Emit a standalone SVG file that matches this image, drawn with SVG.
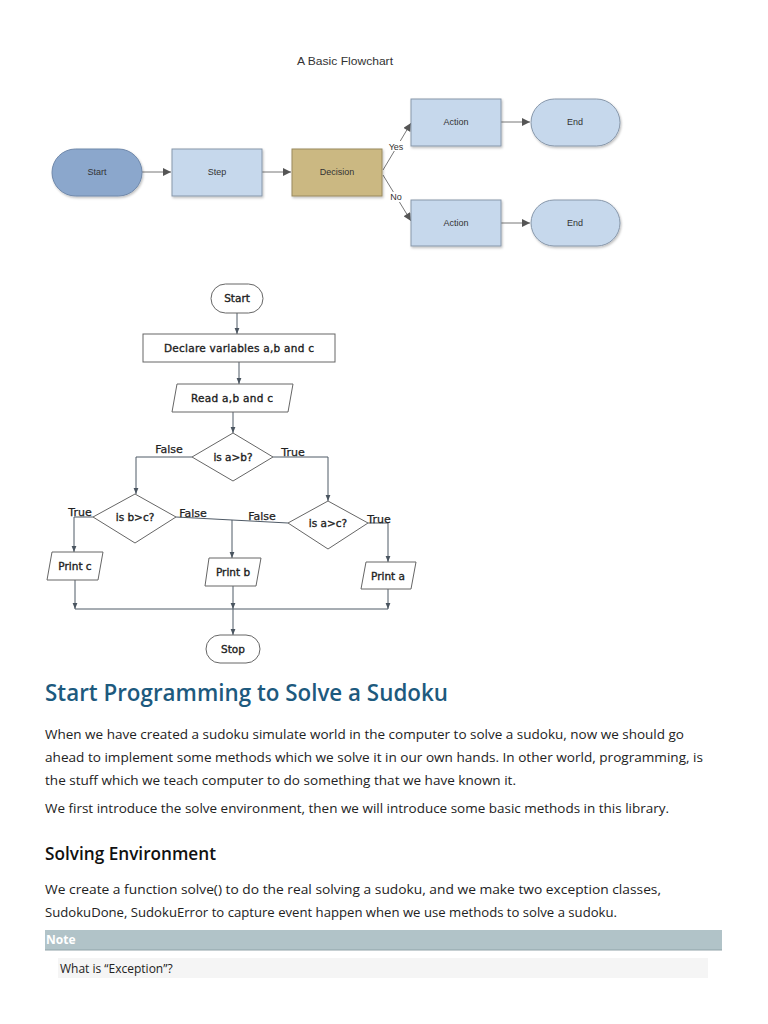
<svg xmlns="http://www.w3.org/2000/svg" width="768" height="1024" viewBox="0 0 768 1024">
<defs>
<marker id="a1" viewBox="0 0 10 10" refX="10" refY="5" markerWidth="9" markerHeight="8" markerUnits="userSpaceOnUse" orient="auto"><path d="M0,0L10,5L0,10z" fill="#555"/></marker>
<marker id="a2" viewBox="0 0 10 10" refX="10" refY="5" markerWidth="6" markerHeight="6" markerUnits="userSpaceOnUse" orient="auto"><path d="M0,1L10,5L0,9z" fill="#4a5560"/></marker>
<filter id="sh" x="-10%" y="-10%" width="130%" height="140%"><feDropShadow dx="1" dy="1.5" stdDeviation="1" flood-color="#000" flood-opacity="0.25"/></filter>
</defs>
<style>
.t1{font-family:"Liberation Sans",Arial,sans-serif;font-size:9px;fill:#333;text-anchor:middle}
.t2{font-family:"DejaVu Sans",Verdana,sans-serif;font-size:10.5px;fill:#222;stroke:#222;stroke-width:0.35px;text-anchor:middle}
.lb{font-family:"DejaVu Sans",Verdana,sans-serif;font-size:11px;fill:#222;stroke:#222;stroke-width:0.25px;text-anchor:middle}
.n2{fill:#fff;stroke:#666;stroke-width:1}
.c1{fill:none;stroke:#777;stroke-width:1}
.c2{fill:none;stroke:#4f5a66;stroke-width:1}
.body{font-family:"Open Sans","Noto Sans",sans-serif;font-size:13.5px;fill:#222}
</style>
<rect width="768" height="1024" fill="#fff"/>

<text x="345" y="65" font-family="Liberation Sans,Arial,sans-serif" font-size="11.5" fill="#333" text-anchor="middle" textLength="96" lengthAdjust="spacingAndGlyphs">A Basic Flowchart</text>

<g id="connectors1">
<line class="c1" x1="142" y1="172" x2="171" y2="172" marker-end="url(#a1)"/>
<line class="c1" x1="262" y1="172" x2="291" y2="172" marker-end="url(#a1)"/>
<line class="c1" x1="383" y1="170" x2="411" y2="123" marker-end="url(#a1)"/>
<line class="c1" x1="383" y1="175" x2="411" y2="221" marker-end="url(#a1)"/>
<line class="c1" x1="501" y1="122" x2="530" y2="122" marker-end="url(#a1)"/>
<line class="c1" x1="501" y1="223" x2="530" y2="223" marker-end="url(#a1)"/>
<rect x="388" y="141" width="16" height="10" fill="#fff"/>
<text class="t1" x="396" y="150">Yes</text>
<rect x="390" y="192" width="13" height="10" fill="#fff"/>
<text class="t1" x="396" y="200">No</text>
</g>

<g id="f1-start"><rect x="52" y="149" width="90" height="47" rx="23.5" fill="#8ba7cc" stroke="#6f88aa" filter="url(#sh)"/><text class="t1" x="97" y="175">Start</text></g>
<g id="f1-step"><rect x="172" y="149" width="90" height="47" fill="#c6d8ec" stroke="#8797aa" filter="url(#sh)"/><text class="t1" x="217" y="175">Step</text></g>
<g id="f1-decision"><rect x="292" y="149" width="90" height="47" fill="#cbb882" stroke="#998a5e" filter="url(#sh)"/><text class="t1" x="337" y="175">Decision</text></g>
<g id="f1-action1"><rect x="411" y="99" width="90" height="47" fill="#c6d8ec" stroke="#8797aa" filter="url(#sh)"/><text class="t1" x="456" y="125">Action</text></g>
<g id="f1-end1"><rect x="531" y="99" width="89" height="47" rx="23.5" fill="#c6d8ec" stroke="#8797aa" filter="url(#sh)"/><text class="t1" x="575" y="125">End</text></g>
<g id="f1-action2"><rect x="411" y="200" width="90" height="46" fill="#c6d8ec" stroke="#8797aa" filter="url(#sh)"/><text class="t1" x="456" y="226">Action</text></g>
<g id="f1-end2"><rect x="531" y="200" width="89" height="46" rx="23" fill="#c6d8ec" stroke="#8797aa" filter="url(#sh)"/><text class="t1" x="575" y="226">End</text></g>

<g id="connectors2">
<line class="c2" x1="237" y1="313" x2="237" y2="334" marker-end="url(#a2)"/>
<line class="c2" x1="239" y1="362" x2="239" y2="384" marker-end="url(#a2)"/>
<line class="c2" x1="233" y1="412" x2="233" y2="433" marker-end="url(#a2)"/>
<polyline class="c2" points="192,457 136,457 136,494" marker-end="url(#a2)"/>
<polyline class="c2" points="273,457 328,457 328,501" marker-end="url(#a2)"/>
<polyline class="c2" points="93,517 74,517 74,552" marker-end="url(#a2)"/>
<polyline class="c2" points="176,517 232,520 288,523"/>
<line class="c2" x1="232" y1="520" x2="232" y2="558" marker-end="url(#a2)"/>
<polyline class="c2" points="368,523 388,523 388,562" marker-end="url(#a2)"/>
<line class="c2" x1="75" y1="580" x2="75" y2="609" marker-end="url(#a2)"/>
<line class="c2" x1="233" y1="586" x2="233" y2="609" marker-end="url(#a2)"/>
<line class="c2" x1="388" y1="589" x2="388" y2="609" marker-end="url(#a2)"/>
<line class="c2" x1="75" y1="609" x2="388" y2="609"/>
<line class="c2" x1="233" y1="609" x2="233" y2="635" marker-end="url(#a2)"/>
<text class="lb" x="169" y="453">False</text>
<text class="lb" x="293" y="456">True</text>
<text class="lb" x="80" y="516">True</text>
<text class="lb" x="193" y="517">False</text>
<text class="lb" x="262" y="520">False</text>
<text class="lb" x="379" y="523">True</text>
</g>

<g id="f2-start"><rect class="n2" x="211" y="284" width="52" height="29" rx="14.5"/><text class="t2" x="237" y="302">Start</text></g>
<g id="f2-declare"><rect class="n2" x="143" y="334" width="192" height="28"/><text class="t2" x="239" y="352" textLength="150" lengthAdjust="spacing">Declare variables a,b and c</text></g>
<g id="f2-read"><polygon class="n2" points="177,384 293,384 288,412 172,412"/><text class="t2" x="232" y="402" textLength="82" lengthAdjust="spacing">Read a,b and c</text></g>
<g id="f2-ab"><polygon class="n2" points="233,433 273,457 233,481 192,457"/><text class="t2" x="233" y="461">is a&gt;b?</text></g>
<g id="f2-bc"><polygon class="n2" points="135,494 176,517 135,543 93,517"/><text class="t2" x="135" y="521">is b&gt;c?</text></g>
<g id="f2-ac"><polygon class="n2" points="328,501 368,523 328,549 288,523"/><text class="t2" x="328" y="527">is a&gt;c?</text></g>
<g id="f2-printc"><polygon class="n2" points="52,552 103,552 98,580 47,580"/><text class="t2" x="75" y="570">Print c</text></g>
<g id="f2-printb"><polygon class="n2" points="209,558 261,558 256,586 205,586"/><text class="t2" x="233" y="576">Print b</text></g>
<g id="f2-printa"><polygon class="n2" points="366,562 416,562 411,589 361,589"/><text class="t2" x="388" y="580" font-size="11.5">Print a</text></g>
<g id="f2-stop"><rect class="n2" x="206" y="635" width="54" height="28" rx="14"/><text class="t2" x="233" y="653">Stop</text></g>

<text x="45" y="701" font-family="Open Sans,Noto Sans,sans-serif" font-size="23" font-weight="600" fill="#1d5a7e" textLength="403" lengthAdjust="spacingAndGlyphs">Start Programming to Solve a Sudoku</text>
<text class="body" x="45" y="739" textLength="639" lengthAdjust="spacingAndGlyphs">When we have created a sudoku simulate world in the computer to solve a sudoku, now we should go</text>
<text class="body" x="45" y="762" textLength="658" lengthAdjust="spacingAndGlyphs">ahead to implement some methods which we solve it in our own hands. In other world, programming, is</text>
<text class="body" x="45" y="785" textLength="471" lengthAdjust="spacingAndGlyphs">the stuff which we teach computer to do something that we have known it.</text>
<text class="body" x="45" y="813" textLength="624" lengthAdjust="spacingAndGlyphs">We first introduce the solve environment, then we will introduce some basic methods in this library.</text>
<text x="45" y="860" font-family="Open Sans,Noto Sans,sans-serif" font-size="18" font-weight="600" fill="#111" textLength="171" lengthAdjust="spacingAndGlyphs">Solving Environment</text>
<text class="body" x="45" y="894" textLength="616" lengthAdjust="spacingAndGlyphs">We create a function solve() to do the real solving a sudoku, and we make two exception classes,</text>
<text class="body" x="45" y="917" textLength="572" lengthAdjust="spacingAndGlyphs">SudokuDone, SudokuError to capture event happen when we use methods to solve a sudoku.</text>
<rect x="45" y="930" width="677" height="20" fill="#b1c3c8"/>
<line x1="45" y1="950" x2="722" y2="950" stroke="#8fa2a8" stroke-width="1"/>
<text x="46" y="944" font-family="Open Sans,Noto Sans,sans-serif" font-size="12" font-weight="bold" fill="#fff">Note</text>
<rect x="58" y="958" width="650" height="20" fill="#f5f5f5"/>
<text x="60" y="973" font-family="Open Sans,Noto Sans,sans-serif" font-size="12" fill="#222">What is “Exception”?</text>
</svg>
